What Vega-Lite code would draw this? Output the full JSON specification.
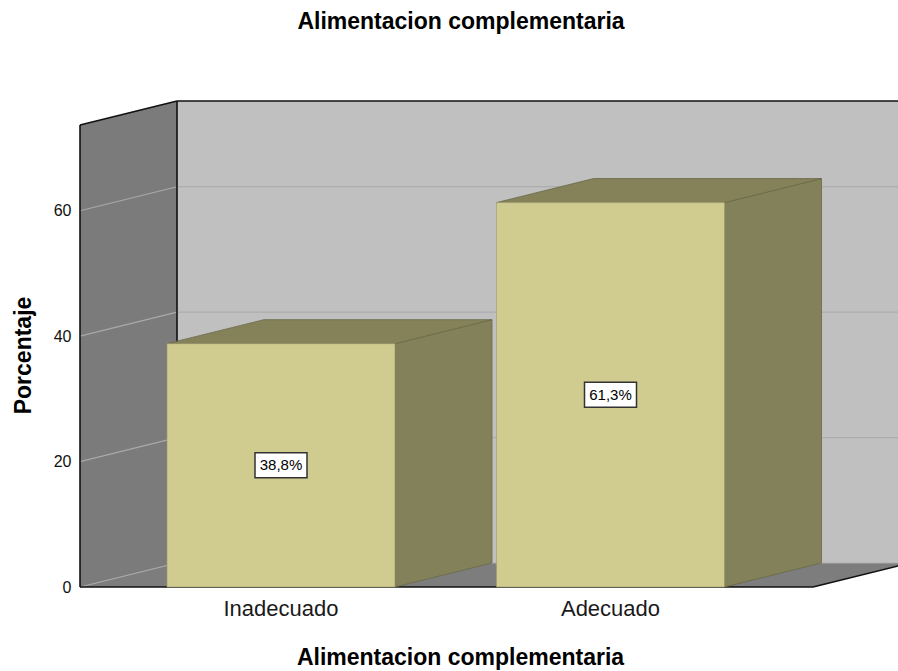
{
  "$schema": "https://vega.github.io/schema/vega-lite/v6.json",
  "width": 818,
  "height": 486,
  "autosize": "none",
  "padding": {"left": 80, "top": 101, "right": 0, "bottom": 84},
  "background": "white",
  "config": {"font": "Liberation Sans", "view": {"stroke": null}},
  "params": [
    {"name": "dx", "value": 97},
    {"name": "dy", "value": 3.83},
    {"name": "ymax", "value": 77.5},
    {"name": "xmax", "value": 900},
    {"name": "fw", "value": 733},
    {"name": "x0c", "value": 201},
    {"name": "step", "value": 329.5},
    {"name": "hw", "value": 114}
  ],
  "title": {
    "text": "Alimentacion complementaria",
    "fontSize": 23,
    "fontWeight": "bold",
    "color": "black",
    "anchor": "middle",
    "dx": -28,
    "offset": 66
  },
  "datasets": {
    "bars": [
      {"cat": "Inadecuado", "pct": 38.8},
      {"cat": "Adecuado", "pct": 61.3}
    ],
    "ticks": [{"v": 0}, {"v": 20}, {"v": 40}, {"v": 60}],
    "frame": [{"part": "walls"}],
    "edges": [{"s": 0}, {"s": 1}, {"s": 2}, {"s": 3}, {"s": 4}, {"s": 5}]
  },
  "layer": [
    {
      "data": {"name": "frame"},
      "transform": [
        {"calculate": "[0,1]", "as": "k"},
        {"flatten": ["k"]},
        {"calculate": "datum.k*dx", "as": "x"},
        {"calculate": "datum.k*dy", "as": "y"},
        {"calculate": "ymax-dy+datum.k*dy", "as": "y2"}
      ],
      "mark": {"type": "area", "orient": "vertical", "color": "#7b7b7b"},
      "encoding": {
        "x": {
          "field": "x", "type": "quantitative",
          "scale": {"domain": [0, 818], "nice": false, "zero": false},
          "axis": {
            "title": "Alimentacion complementaria",
            "titleFontSize": 23, "titleFontWeight": "bold", "titleColor": "black",
            "titleX": 380, "titlePadding": 59,
            "labels": false, "ticks": false, "domain": false, "grid": false
          }
        },
        "y": {
          "field": "y", "type": "quantitative", "stack": null,
          "scale": {"domain": [0, 77.5], "nice": false, "zero": false},
          "axis": {
            "title": "Porcentaje", "values": [0, 20, 40, 60],
            "titleFontSize": 23, "titleFontWeight": "bold", "titleColor": "black",
            "titleY": 254, "titlePadding": 18,
            "labelFontSize": 16, "labelColor": "#111111", "labelPadding": 9,
            "ticks": false, "domain": false, "grid": false
          }
        },
        "y2": {"field": "y2"}
      }
    },
    {
      "data": {"name": "frame"},
      "transform": [
        {"calculate": "dx", "as": "x"},
        {"calculate": "xmax", "as": "x2"},
        {"calculate": "dy", "as": "y"},
        {"calculate": "ymax", "as": "y2"}
      ],
      "mark": {"type": "rect", "color": "#c0c0c0"},
      "encoding": {
        "x": {"field": "x", "type": "quantitative", "scale": {"domain": [0, 818], "nice": false, "zero": false}},
        "x2": {"field": "x2"},
        "y": {"field": "y", "type": "quantitative", "scale": {"domain": [0, 77.5], "nice": false, "zero": false}},
        "y2": {"field": "y2"}
      }
    },
    {
      "data": {"name": "frame"},
      "transform": [
        {"calculate": "[0,1]", "as": "k"},
        {"flatten": ["k"]},
        {"calculate": "datum.k*dy", "as": "y"},
        {"calculate": "datum.k*dx", "as": "x"},
        {"calculate": "fw+datum.k*dx", "as": "x2"}
      ],
      "mark": {"type": "area", "orient": "horizontal", "color": "#7d7d7d"},
      "encoding": {
        "y": {"field": "y", "type": "quantitative", "scale": {"domain": [0, 77.5], "nice": false, "zero": false}},
        "x": {"field": "x", "type": "quantitative", "stack": null, "scale": {"domain": [0, 818], "nice": false, "zero": false}},
        "x2": {"field": "x2"}
      }
    },
    {
      "data": {"name": "ticks"},
      "transform": [
        {"calculate": "dx", "as": "x"},
        {"calculate": "xmax", "as": "x2"},
        {"calculate": "datum.v+dy", "as": "y"}
      ],
      "mark": {"type": "rule", "color": "#adadad", "strokeWidth": 1.2},
      "encoding": {
        "x": {"field": "x", "type": "quantitative", "scale": {"domain": [0, 818], "nice": false, "zero": false}},
        "x2": {"field": "x2"},
        "y": {"field": "y", "type": "quantitative", "scale": {"domain": [0, 77.5], "nice": false, "zero": false}}
      }
    },
    {
      "data": {"name": "ticks"},
      "transform": [
        {"calculate": "0", "as": "x"},
        {"calculate": "dx", "as": "x2"},
        {"calculate": "datum.v", "as": "y"},
        {"calculate": "datum.v+dy", "as": "y2"}
      ],
      "mark": {"type": "rule", "color": "#a9a9a9", "strokeWidth": 1.2},
      "encoding": {
        "x": {"field": "x", "type": "quantitative", "scale": {"domain": [0, 818], "nice": false, "zero": false}},
        "x2": {"field": "x2"},
        "y": {"field": "y", "type": "quantitative", "scale": {"domain": [0, 77.5], "nice": false, "zero": false}},
        "y2": {"field": "y2"}
      }
    },
    {
      "data": {"name": "edges"},
      "transform": [
        {"calculate": "[0,0,dx,dx,0,fw][datum.s]", "as": "x"},
        {"calculate": "[0,ymax-dy,dy,ymax,0,0][datum.s]", "as": "y"},
        {"calculate": "[0,dx,dx,xmax,fw,fw+dx][datum.s]", "as": "x2"},
        {"calculate": "[ymax-dy,ymax,ymax,ymax,0,dy][datum.s]", "as": "y2"}
      ],
      "mark": {"type": "rule", "color": "#111111", "strokeWidth": 1.6},
      "encoding": {
        "x": {"field": "x", "type": "quantitative", "scale": {"domain": [0, 818], "nice": false, "zero": false}},
        "x2": {"field": "x2"},
        "y": {"field": "y", "type": "quantitative", "scale": {"domain": [0, 77.5], "nice": false, "zero": false}},
        "y2": {"field": "y2"}
      }
    },
    {
      "data": {"name": "bars"},
      "transform": [
        {"window": [{"op": "row_number", "as": "i"}]},
        {"calculate": "x0c+(datum.i-1)*step", "as": "cx"},
        {"calculate": "[0,1]", "as": "k"},
        {"flatten": ["k"]},
        {"calculate": "datum.cx+hw+datum.k*dx", "as": "x"},
        {"calculate": "datum.k*dy", "as": "y"},
        {"calculate": "datum.pct+datum.k*dy", "as": "y2"}
      ],
      "mark": {"type": "area", "orient": "vertical", "fill": "#838159", "stroke": "#6a6848", "strokeWidth": 0.8},
      "encoding": {
        "x": {"field": "x", "type": "quantitative", "scale": {"domain": [0, 818], "nice": false, "zero": false}},
        "y": {"field": "y", "type": "quantitative", "stack": null, "scale": {"domain": [0, 77.5], "nice": false, "zero": false}},
        "y2": {"field": "y2"},
        "detail": {"field": "cat"}
      }
    },
    {
      "data": {"name": "bars"},
      "transform": [
        {"window": [{"op": "row_number", "as": "i"}]},
        {"calculate": "x0c+(datum.i-1)*step", "as": "cx"},
        {"calculate": "[0,1]", "as": "k"},
        {"flatten": ["k"]},
        {"calculate": "datum.pct+datum.k*dy", "as": "y"},
        {"calculate": "datum.cx-hw+datum.k*dx", "as": "x"},
        {"calculate": "datum.cx+hw+datum.k*dx", "as": "x2"}
      ],
      "mark": {"type": "area", "orient": "horizontal", "fill": "#85825a", "stroke": "#6a6848", "strokeWidth": 0.8},
      "encoding": {
        "y": {"field": "y", "type": "quantitative", "scale": {"domain": [0, 77.5], "nice": false, "zero": false}},
        "x": {"field": "x", "type": "quantitative", "stack": null, "scale": {"domain": [0, 818], "nice": false, "zero": false}},
        "x2": {"field": "x2"},
        "detail": {"field": "cat"}
      }
    },
    {
      "data": {"name": "bars"},
      "transform": [
        {"window": [{"op": "row_number", "as": "i"}]},
        {"calculate": "x0c+(datum.i-1)*step", "as": "cx"},
        {"calculate": "datum.cx-hw", "as": "x"},
        {"calculate": "datum.cx+hw", "as": "x2"},
        {"calculate": "0", "as": "y0"}
      ],
      "mark": {"type": "rect", "fill": "#d0cb8f", "stroke": "#9c9870", "strokeWidth": 0.6},
      "encoding": {
        "x": {"field": "x", "type": "quantitative", "scale": {"domain": [0, 818], "nice": false, "zero": false}},
        "x2": {"field": "x2"},
        "y": {"field": "pct", "type": "quantitative", "scale": {"domain": [0, 77.5], "nice": false, "zero": false}},
        "y2": {"field": "y0"}
      }
    },
    {
      "data": {"name": "bars"},
      "transform": [
        {"window": [{"op": "row_number", "as": "i"}]},
        {"calculate": "x0c+(datum.i-1)*step", "as": "cx"},
        {"calculate": "datum.pct/2", "as": "mid"}
      ],
      "mark": {"type": "point", "shape": "M-2.08,-1H2.08V1H-2.08Z", "size": 625, "filled": true, "fill": "white", "stroke": "#333333", "strokeWidth": 1.5, "opacity": 1},
      "encoding": {
        "x": {"field": "cx", "type": "quantitative", "scale": {"domain": [0, 818], "nice": false, "zero": false}},
        "y": {"field": "mid", "type": "quantitative", "scale": {"domain": [0, 77.5], "nice": false, "zero": false}}
      }
    },
    {
      "data": {"name": "bars"},
      "transform": [
        {"window": [{"op": "row_number", "as": "i"}]},
        {"calculate": "x0c+(datum.i-1)*step", "as": "cx"},
        {"calculate": "datum.pct/2", "as": "mid"},
        {"calculate": "replace(format(datum.pct,'.1f'),'.',',')+'%'", "as": "lbl"}
      ],
      "mark": {"type": "text", "fontSize": 15, "color": "black", "align": "center", "baseline": "middle"},
      "encoding": {
        "x": {"field": "cx", "type": "quantitative", "scale": {"domain": [0, 818], "nice": false, "zero": false}},
        "y": {"field": "mid", "type": "quantitative", "scale": {"domain": [0, 77.5], "nice": false, "zero": false}},
        "text": {"field": "lbl"}
      }
    },
    {
      "data": {"name": "bars"},
      "transform": [
        {"window": [{"op": "row_number", "as": "i"}]},
        {"calculate": "x0c+(datum.i-1)*step", "as": "cx"},
        {"calculate": "0", "as": "y0"}
      ],
      "mark": {"type": "text", "fontSize": 22, "color": "#1a1a1a", "align": "center", "baseline": "middle", "dy": 22},
      "encoding": {
        "x": {"field": "cx", "type": "quantitative", "scale": {"domain": [0, 818], "nice": false, "zero": false}},
        "y": {"field": "y0", "type": "quantitative", "scale": {"domain": [0, 77.5], "nice": false, "zero": false}},
        "text": {"field": "cat"}
      }
    }
  ]
}
